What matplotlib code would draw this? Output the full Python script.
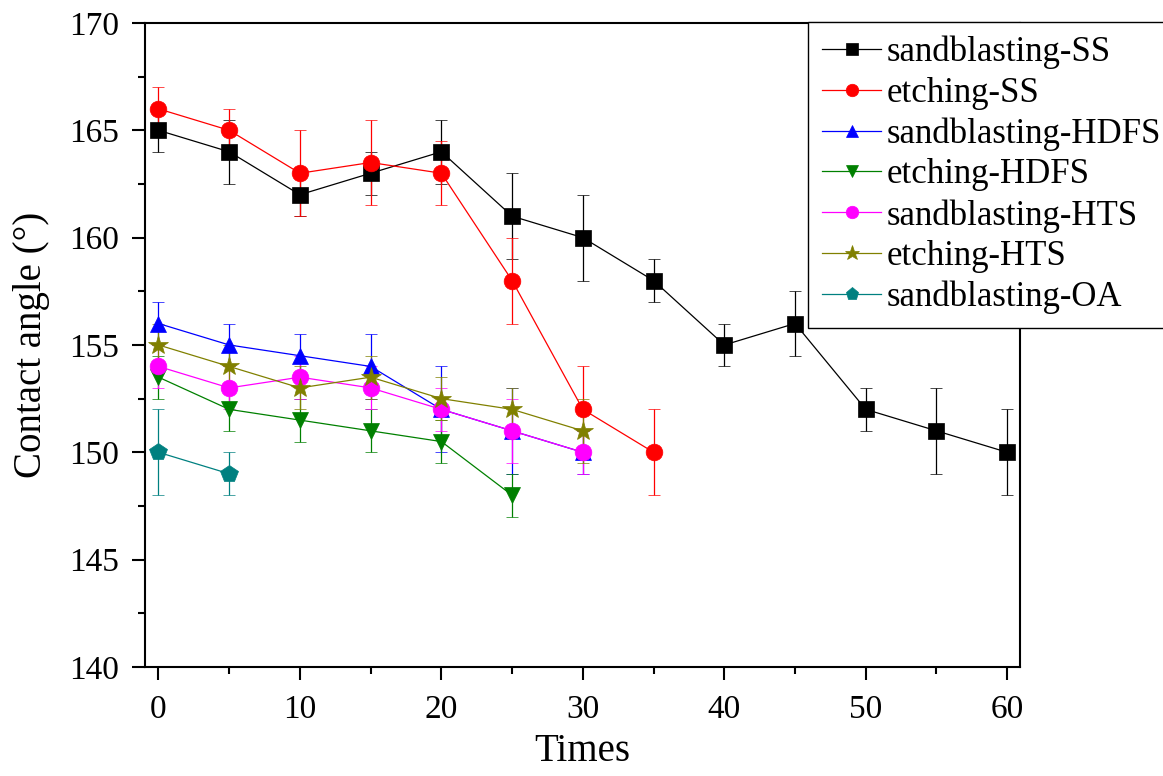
import numpy as np
import matplotlib
matplotlib.use('Agg')
import matplotlib.pyplot as plt
from matplotlib.ticker import MultipleLocator

plt.rcParams['font.family'] = ['Liberation Serif', 'DejaVu Serif']

# times (x) and contact angles per sample
times = [0, 5, 10, 15, 20, 25, 30, 35, 40, 45, 50, 55, 60]

sb_ss = [165, 164, 162, 163, 164, 161, 160, 158, 155, 156, 152, 151, 150]
sb_ss_err = [1, 1.5, 1, 1, 1.5, 2, 2, 1, 1, 1.5, 1, 2, 2]

et_ss = [166, 165, 163, 163.5, 163, 158, 152, 150]
et_ss_err = [1, 1, 2, 2, 1.5, 2, 2, 2]

sb_hdfs = [156, 155, 154.5, 154, 152, 151, 150]
sb_hdfs_err = [1, 1, 1, 1.5, 2, 2, 1]

et_hdfs = [153.5, 152, 151.5, 151, 150.5, 148]
et_hdfs_err = [1, 1, 1, 1, 1, 1]

sb_hts = [154, 153, 153.5, 153, 152, 151, 150]
sb_hts_err = [1, 1, 1, 1, 1, 1.5, 1]

et_hts = [155, 154, 153, 153.5, 152.5, 152, 151]
et_hts_err = [1, 1, 1, 1, 1, 1, 1.5]

sb_oa = [150, 149]
sb_oa_err = [2, 1]

series = [
    ('sandblasting-SS', sb_ss, sb_ss_err, 'black', 's', 11),
    ('etching-SS', et_ss, et_ss_err, 'red', 'o', 12),
    ('sandblasting-HDFS', sb_hdfs, sb_hdfs_err, 'blue', '^', 12),
    ('etching-HDFS', et_hdfs, et_hdfs_err, 'green', 'v', 12),
    ('sandblasting-HTS', sb_hts, sb_hts_err, 'magenta', 'o', 12),
    ('etching-HTS', et_hts, et_hts_err, 'olive', '*', 15),
    ('sandblasting-OA', sb_oa, sb_oa_err, 'teal', 'p', 13),
]

fig = plt.figure(figsize=(11.63, 7.76), dpi=100)
ax = fig.add_axes([0.1247, 0.1405, 0.7523, 0.8299])

handles = []
for label, vals, err, color, marker, ms in series:
    x = times[:len(vals)]
    cont = ax.errorbar(x, vals, yerr=err, color=color, marker=marker, markersize=ms,
                       linewidth=0.9, elinewidth=0.9, capsize=4.5, capthick=0.9,
                       markeredgewidth=0.5, label=label)
    handles.append(cont[0])

ax.set_xlim(-0.95, 60.9)
ax.set_ylim(140, 170)
ax.xaxis.set_major_locator(MultipleLocator(10))
ax.xaxis.set_minor_locator(MultipleLocator(5))
ax.yaxis.set_major_locator(MultipleLocator(5))
ax.yaxis.set_minor_locator(MultipleLocator(2.5))
ax.tick_params(which='major', direction='out', length=9.5, width=1.5, labelsize=24)
ax.tick_params(which='minor', direction='out', length=5, width=1.5)
ax.tick_params(axis='x', which='major', pad=10)
ax.tick_params(axis='y', which='major', pad=9)
ax.tick_params(top=False, right=False, which='both')
for sp in ax.spines.values():
    sp.set_linewidth(1.5)

ax.set_xlabel('Times', fontsize=28, labelpad=6)
ax.set_ylabel('Contact angle (°)', fontsize=28, labelpad=14)

leg = ax.legend(handles=handles, labels=[s[0] for s in series],
                loc='upper left', bbox_to_anchor=(0.758, 1.002), fontsize=25,
                frameon=True, fancybox=False, edgecolor='black', framealpha=1,
                handlelength=1.7, handletextpad=0.15, labelspacing=0.22,
                borderpad=0.4, borderaxespad=0, markerscale=0.75)
leg.get_frame().set_linewidth(1.0)

fig.savefig('out.png', dpi=100)
